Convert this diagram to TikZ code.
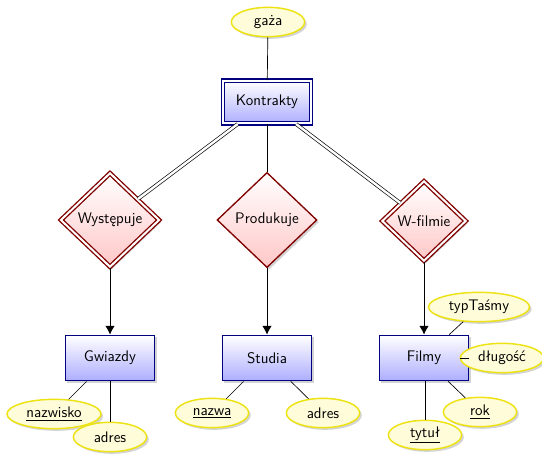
\documentclass[tikz,border=0pt]{standalone}
\usetikzlibrary{shapes.geometric,shadows,arrows.meta}
\begin{document}
\begin{tikzpicture}[x=0.75pt,y=-0.75pt,
  every node/.style={font=\sffamily\fontsize{11.5}{14}\selectfont},
  shadowed/.style={drop shadow={opacity=0.35,shadow xshift=1.6pt,shadow yshift=-1.6pt}},
  entity/.style={rectangle, draw=blue!50!black, line width=1.1pt, top color=white, bottom color=blue!32,
    minimum width=67pt, minimum height=34pt, shadowed},
  weakentity/.style={entity, double, double distance=1.6pt, line width=1pt, minimum width=66pt, minimum height=32pt},
  rel/.style={diamond, aspect=1.05, draw=red!50!black, line width=1pt, top color=white, bottom color=red!22,
    inner sep=4pt, shadowed},
  weakrel/.style={rel, double, double distance=1.5pt, inner sep=3.6pt},
  attr/.style={ellipse, draw=yellow!92!black, line width=1.1pt, fill=yellow!15,
    minimum width=55pt, minimum height=22pt, inner xsep=4.2pt, inner ysep=0.5pt, shadowed},
  link/.style={draw=black, line width=0.5pt},
  dlink/.style={draw=black, double, double distance=1.8pt, line width=0.5pt},
  arr/.style={draw=black, line width=0.65pt, -{Latex[length=6.5pt,width=7pt]}}
]
\useasboundingbox (0,0) rectangle (542,454);

\node[weakentity] (kontrakty) at (267,102) {Kontrakty};
\node[attr] (gaza) at (268,22) {gaża};

\node[weakrel] (wyst) at (110,220) {Występuje};
\node[rel] (prod) at (267,220) {Produkuje};
\node[weakrel] (wfil) at (424,221) {W-filmie};

\node[entity] (gwiazdy) at (110,358) {Gwiazdy};
\node[entity] (studia) at (267,358) {Studia};
\node[entity] (filmy) at (424,358) {Filmy};

\node[attr] (nazwisko) at (54,414) {\underline{nazwisko}};
\node[attr] (adres1) at (110,437) {adres};
\node[attr] (nazwa) at (212,413) {\underline{nazwa}};
\node[attr] (adres2) at (323,413) {adres};
\node[attr] (typ) at (479,307) {typTaśmy};
\node[attr] (dlug) at (502,358) {długość};
\node[attr] (rok) at (480,412) {\underline{rok}};
\node[attr] (tytul) at (425,435) {\underline{tytuł}};

\draw[link] (gaza) -- (kontrakty);
\draw[link] (kontrakty) -- (prod);
\draw[dlink] (kontrakty) -- (wyst);
\draw[dlink] (kontrakty) -- (wfil);

\draw[arr] (wyst) -- (gwiazdy);
\draw[arr] (prod) -- (studia);
\draw[arr] (wfil) -- (filmy);

\draw[link] (gwiazdy) -- (nazwisko);
\draw[link] (gwiazdy.south -| adres1) -- (adres1);
\draw[link] (studia) -- (nazwa);
\draw[link] (studia) -- (adres2);
\draw[link] (filmy) -- (typ);
\draw[link] (filmy) -- (dlug);
\draw[link] (filmy) -- (rok);
\draw[link] (filmy.south -| tytul) -- (tytul);
\end{tikzpicture}
\end{document}
